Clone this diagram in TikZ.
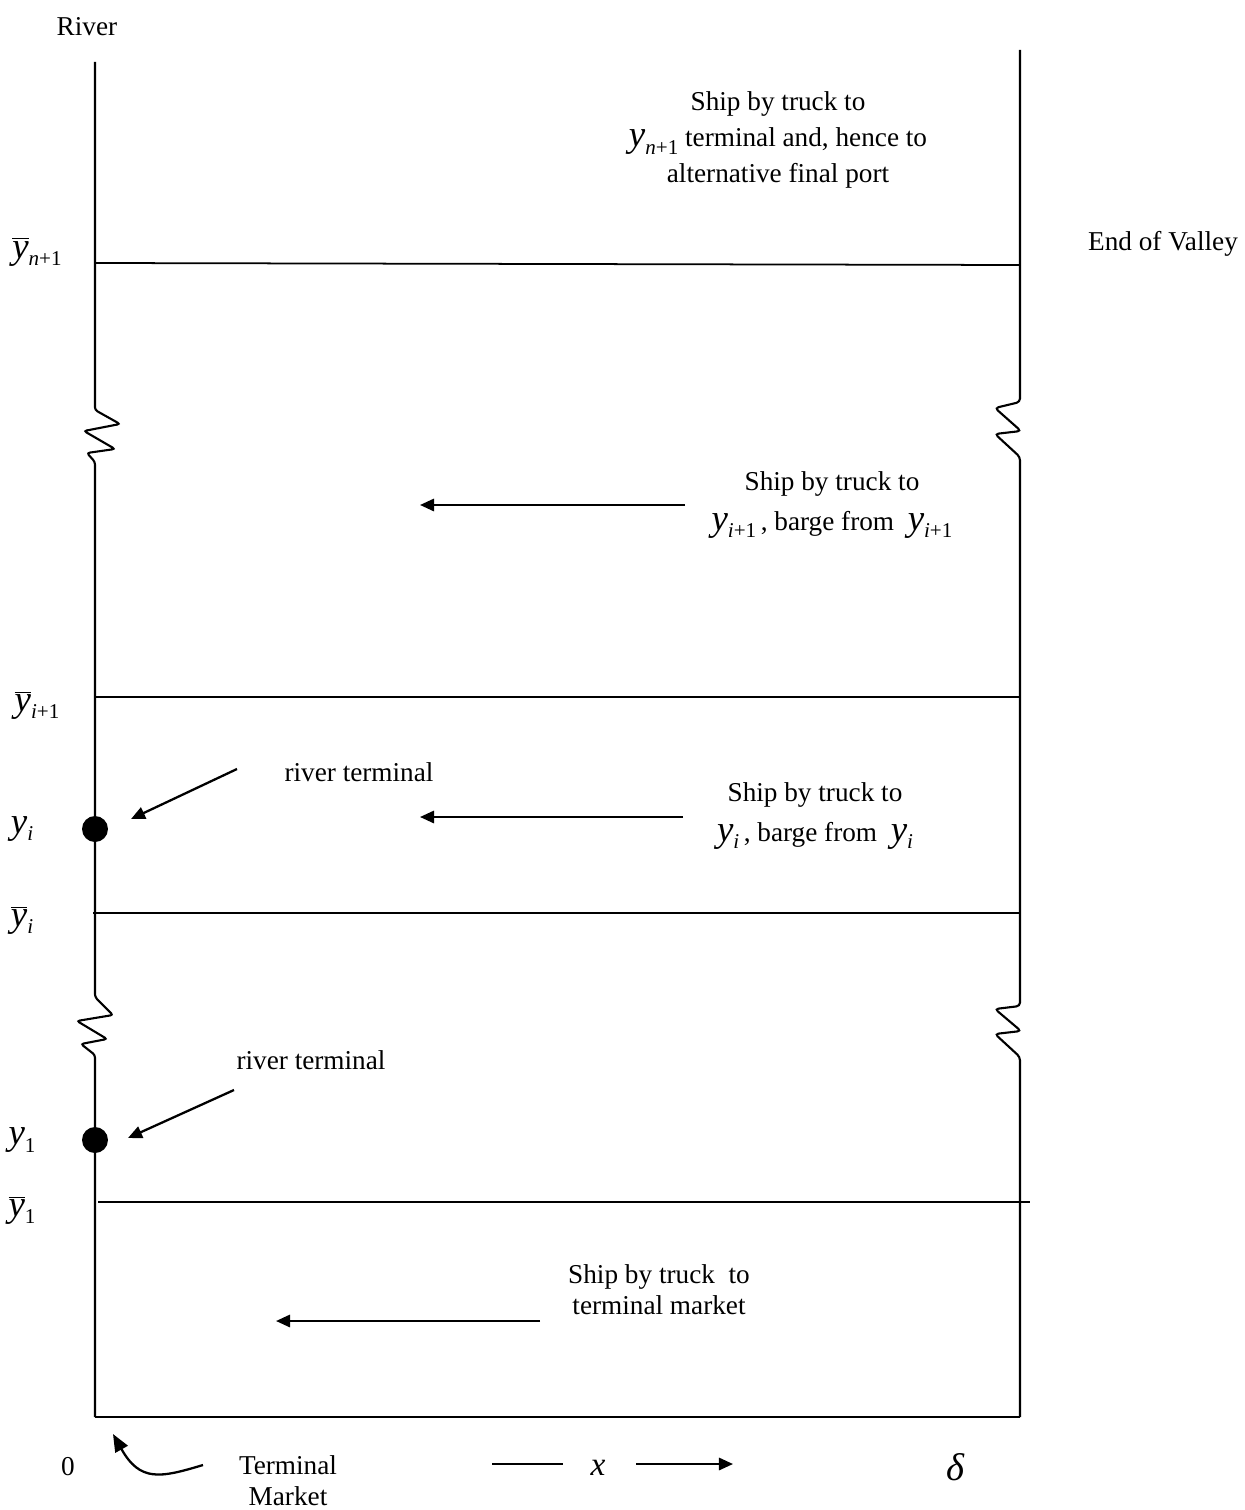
\documentclass[tikz,border=0pt]{standalone}
\usepackage{fontspec}
\setmainfont{Liberation Serif}
\usetikzlibrary{arrows.meta}

\newcommand{\yvar}{{\fontsize{21}{21}\selectfont\itshape y}}
\newcommand{\ysub}[1]{\yvar\raisebox{-0.6ex}{\fontsize{12}{12}\selectfont #1}}
\newcommand{\ybar}[1]{$\overline{\hbox{\yvar}}$\raisebox{-0.6ex}{\fontsize{12}{12}\selectfont #1}}

\tikzset{
  edge/.style={line width=1pt},
  flow/.style={line width=1.3pt, -{Triangle[length=8pt,width=7pt]}},
  txt/.style={inner sep=0pt, align=center, font=\fontsize{15.5}{22.5}\selectfont},
  dot/.style={circle, fill=black, inner sep=0pt, minimum size=0.52cm}
}

\begin{document}
\begin{tikzpicture}[x=0.02cm, y=-0.02cm]
  \useasboundingbox (0,0) rectangle (1244,1510);

  % river side
  \draw[edge, line width=1.2pt, rounded corners=1.5pt] (95,62) -- (95,410) -- (120,424) -- (84,431) -- (115,449) -- (87,453) -- (95,462)
    -- (95,997) -- (113,1015) -- (77,1021) -- (107,1039) -- (81,1044) -- (95,1055) -- (95,1417);
  % valley end
  \draw[edge, line width=1.2pt, rounded corners=2pt] (1020,50) -- (1020,402) -- (995,408) -- (1021,431) -- (995,434) -- (1020,457)
    -- (1020,1006) -- (995,1009) -- (1021,1031) -- (995,1034) -- (1020,1057) -- (1020,1417);
  \draw[edge] (95,1417) -- (1020,1417);

  % region limits
  \draw[edge] (95,263) -- (1020,265);
  \draw[edge] (95,697) -- (1020,697);
  \draw[edge] (93,913) -- (1020,913);
  \draw[edge] (98,1202) -- (1030,1202);

  % terminals
  \node[dot] (ti) at (95,829) {};
  \node[dot] (t1) at (95,1140) {};

  % left labels
  \node[txt] (river) at (87,27) {River};
  \node[txt] (ybn) at (37,252) {\ybar{\itshape n\upshape+1}};
  \node[txt] (ybi1) at (37,705) {\ybar{\itshape i\upshape+1}};
  \node[txt] (yi) at (22,829) {\ysub{\itshape i}};
  \node[txt] (ybi) at (22,920) {\ybar{\itshape i}};
  \node[txt] (y1) at (22,1140) {\ysub{1}};
  \node[txt] (yb1) at (22,1210) {\ybar{1}};
  \node[txt] (zero) at (68,1467) {0};
  \node[txt] (valley) at (1163,244) {End of Valley};

  % region texts
  \node[txt] (top) at (778,140) {Ship by truck to\\[-2pt]
    \ysub{\itshape n\upshape+1}\ terminal and, hence to\\[-2pt] alternative final port};
  \node[txt] (mid) at (832,505) {Ship by truck to\\ \ysub{\itshape i\upshape+1}\,, barge from\ \ \ysub{\itshape i\upshape+1}};
  \node[txt] (low) at (815,816) {Ship by truck to\\ \ysub{\itshape i}\,, barge from\ \ \ysub{\itshape i}};
  \node[txt, font=\fontsize{15.5}{17.5}\selectfont] (base) at (659,1290) {Ship by truck\ \ to\\terminal market};
  \node[txt] (rti) at (359,772) {river terminal};
  \node[txt] (rt1) at (311,1060) {river terminal};

  % shipment arrows
  \coordinate (a1) at (685,505);
  \coordinate (b1) at (420,505);
  \coordinate (a2) at (683,817);
  \coordinate (b2) at (420,817);
  \coordinate (a3) at (540,1321);
  \coordinate (b3) at (276,1321);
  \draw[flow] (a1) -- (b1);
  \draw[flow] (a2) -- (b2);
  \draw[flow] (a3) -- (b3);
  \coordinate (p1) at (237,769);
  \coordinate (p2) at (234,1090);
  \draw[flow] (p1) -- (131,819);
  \draw[flow] (p2) -- (128,1138);

  % axis
  \node[txt, font=\fontsize{15.5}{17.5}\selectfont] (tm) at (288,1481) {Terminal\\Market};
  \coordinate (c0) at (203,1465);
  \draw[flow, -{Triangle[length=10pt,width=8pt]}] (c0) .. controls (160,1478) and (140,1482) .. (113,1434);
  \node[txt] (xv) at (598,1468) {\fontsize{19}{19}\selectfont\itshape x};
  \coordinate (x0) at (492,1464);
  \coordinate (x1) at (563,1464);
  \draw[edge] (x0) -- (x1);
  \coordinate (x2) at (636,1464);
  \coordinate (x3) at (733,1464);
  \draw[flow] (x2) -- (x3);
  \node[txt] (del) at (955,1467) {\fontsize{22}{22}\selectfont\itshape δ};
\end{tikzpicture}
\end{document}
